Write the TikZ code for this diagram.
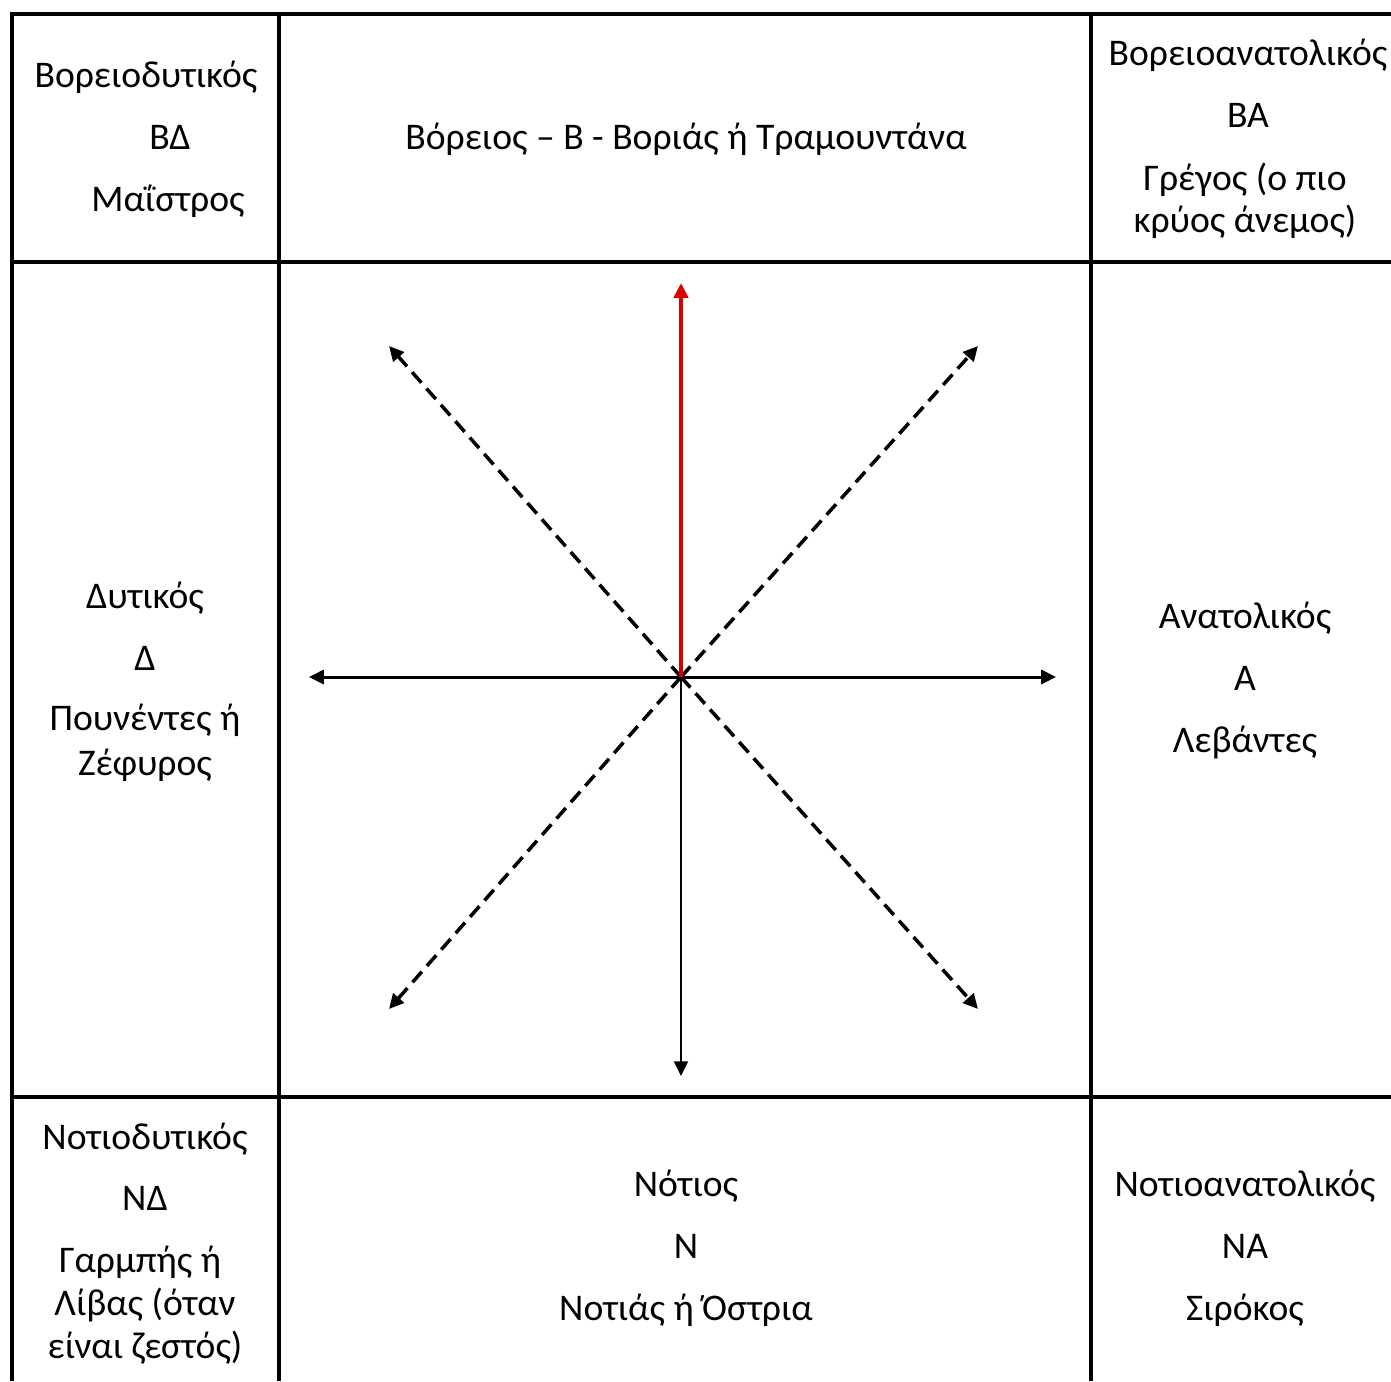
\documentclass[tikz,border=0pt]{standalone}
\usepackage{fontspec}
\setmainfont{Carlito}
\usetikzlibrary{positioning, arrows.meta}

\begin{document}
\begin{tikzpicture}
            [x=0.01cm, y=-0.01cm,
             grid/.style={line width=0.9pt, black},
             label/.style={font=\fontsize{10.7}{12}\selectfont, anchor=base, inner sep=0pt, text=black},
             tip/.style={-{Triangle[length=4.2pt, width=4pt]}},
             wind/.style={tip, line width=1pt, dash pattern=on 4pt off 2.2pt}]
            \useasboundingbox (0,0) rectangle (1391,1381);

            % table lines
            \draw[grid] (1391,14) -- (12,14) -- (12,1381);
            \draw[grid] (279,14) -- (279,1381);
            \draw[grid] (1091,14) -- (1091,1381);
            \draw[grid] (12,262) -- (1391,262);
            \draw[grid] (12,1097) -- (1391,1097);

            % compass
            \coordinate (O) at (681,677);
            \coordinate (N) at (681,283);
            \coordinate (S) at (681,1076);
            \coordinate (W) at (309,677);
            \coordinate (E) at (1056,677);
            \coordinate (NW) at (389,346);
            \coordinate (NE) at (978,346);
            \coordinate (SW) at (389,1009);
            \coordinate (SE) at (978,1009);

            \draw[tip, line width=0.85pt] (O) -- (W);
            \draw[tip, line width=0.85pt] (O) -- (E);
            \draw[tip, line width=0.55pt] (O) -- (S);
            \draw[wind] (O) -- (NW);
            \draw[wind] (O) -- (NE);
            \draw[wind] (O) -- (SW);
            \draw[wind] (O) -- (SE);
            \draw[tip, line width=1.2pt, red!85!black] (O) -- (N);

            % top row
            \node[label] (nw1) at (146,87) {Βορειοδυτικός};
            \node[label] (nw2) at (170,149) {ΒΔ};
            \node[label] (nw3) at (168,211) {Μαΐστρος};
            \node[label] (n1) at (686,149) {Βόρειος – Β - Βοριάς ή Τραμουντάνα};
            \node[label] (ne1) at (1248,65) {Βορειοανατολικός};
            \node[label] (ne2) at (1248,127) {ΒΑ};
            \node[label] (ne3) at (1245,190) {Γρέγος (ο πιο};
            \node[label] (ne4) at (1245,232) {κρύος άνεμος)};

            % middle row
            \node[label] (w1) at (145,608) {Δυτικός};
            \node[label] (w2) at (145,670) {Δ};
            \node[label] (w3) at (145,730) {Πουνέντες ή};
            \node[label] (w4) at (145,775) {Ζέφυρος};
            \node[label] (e1) at (1245,628) {Ανατολικός};
            \node[label] (e2) at (1245,690) {Α};
            \node[label] (e3) at (1245,752) {Λεβάντες};

            % bottom row
            \node[label] (sw1) at (145,1149) {Νοτιοδυτικός};
            \node[label] (sw2) at (145,1210) {ΝΔ};
            \node[label] (sw3) at (140,1272) {Γαρμπής ή};
            \node[label] (sw4) at (145,1315) {Λίβας (όταν};
            \node[label] (sw5) at (145,1358) {είναι ζεστός)};
            \node[label] (s1) at (686,1196) {Νότιος};
            \node[label] (s2) at (686,1258) {Ν};
            \node[label] (s3) at (686,1320) {Νοτιάς ή Όστρια};
            \node[label] (se1) at (1245,1196) {Νοτιοανατολικός};
            \node[label] (se2) at (1245,1258) {ΝΑ};
            \node[label] (se3) at (1245,1320) {Σιρόκος};
        \end{tikzpicture}
\end{document}
